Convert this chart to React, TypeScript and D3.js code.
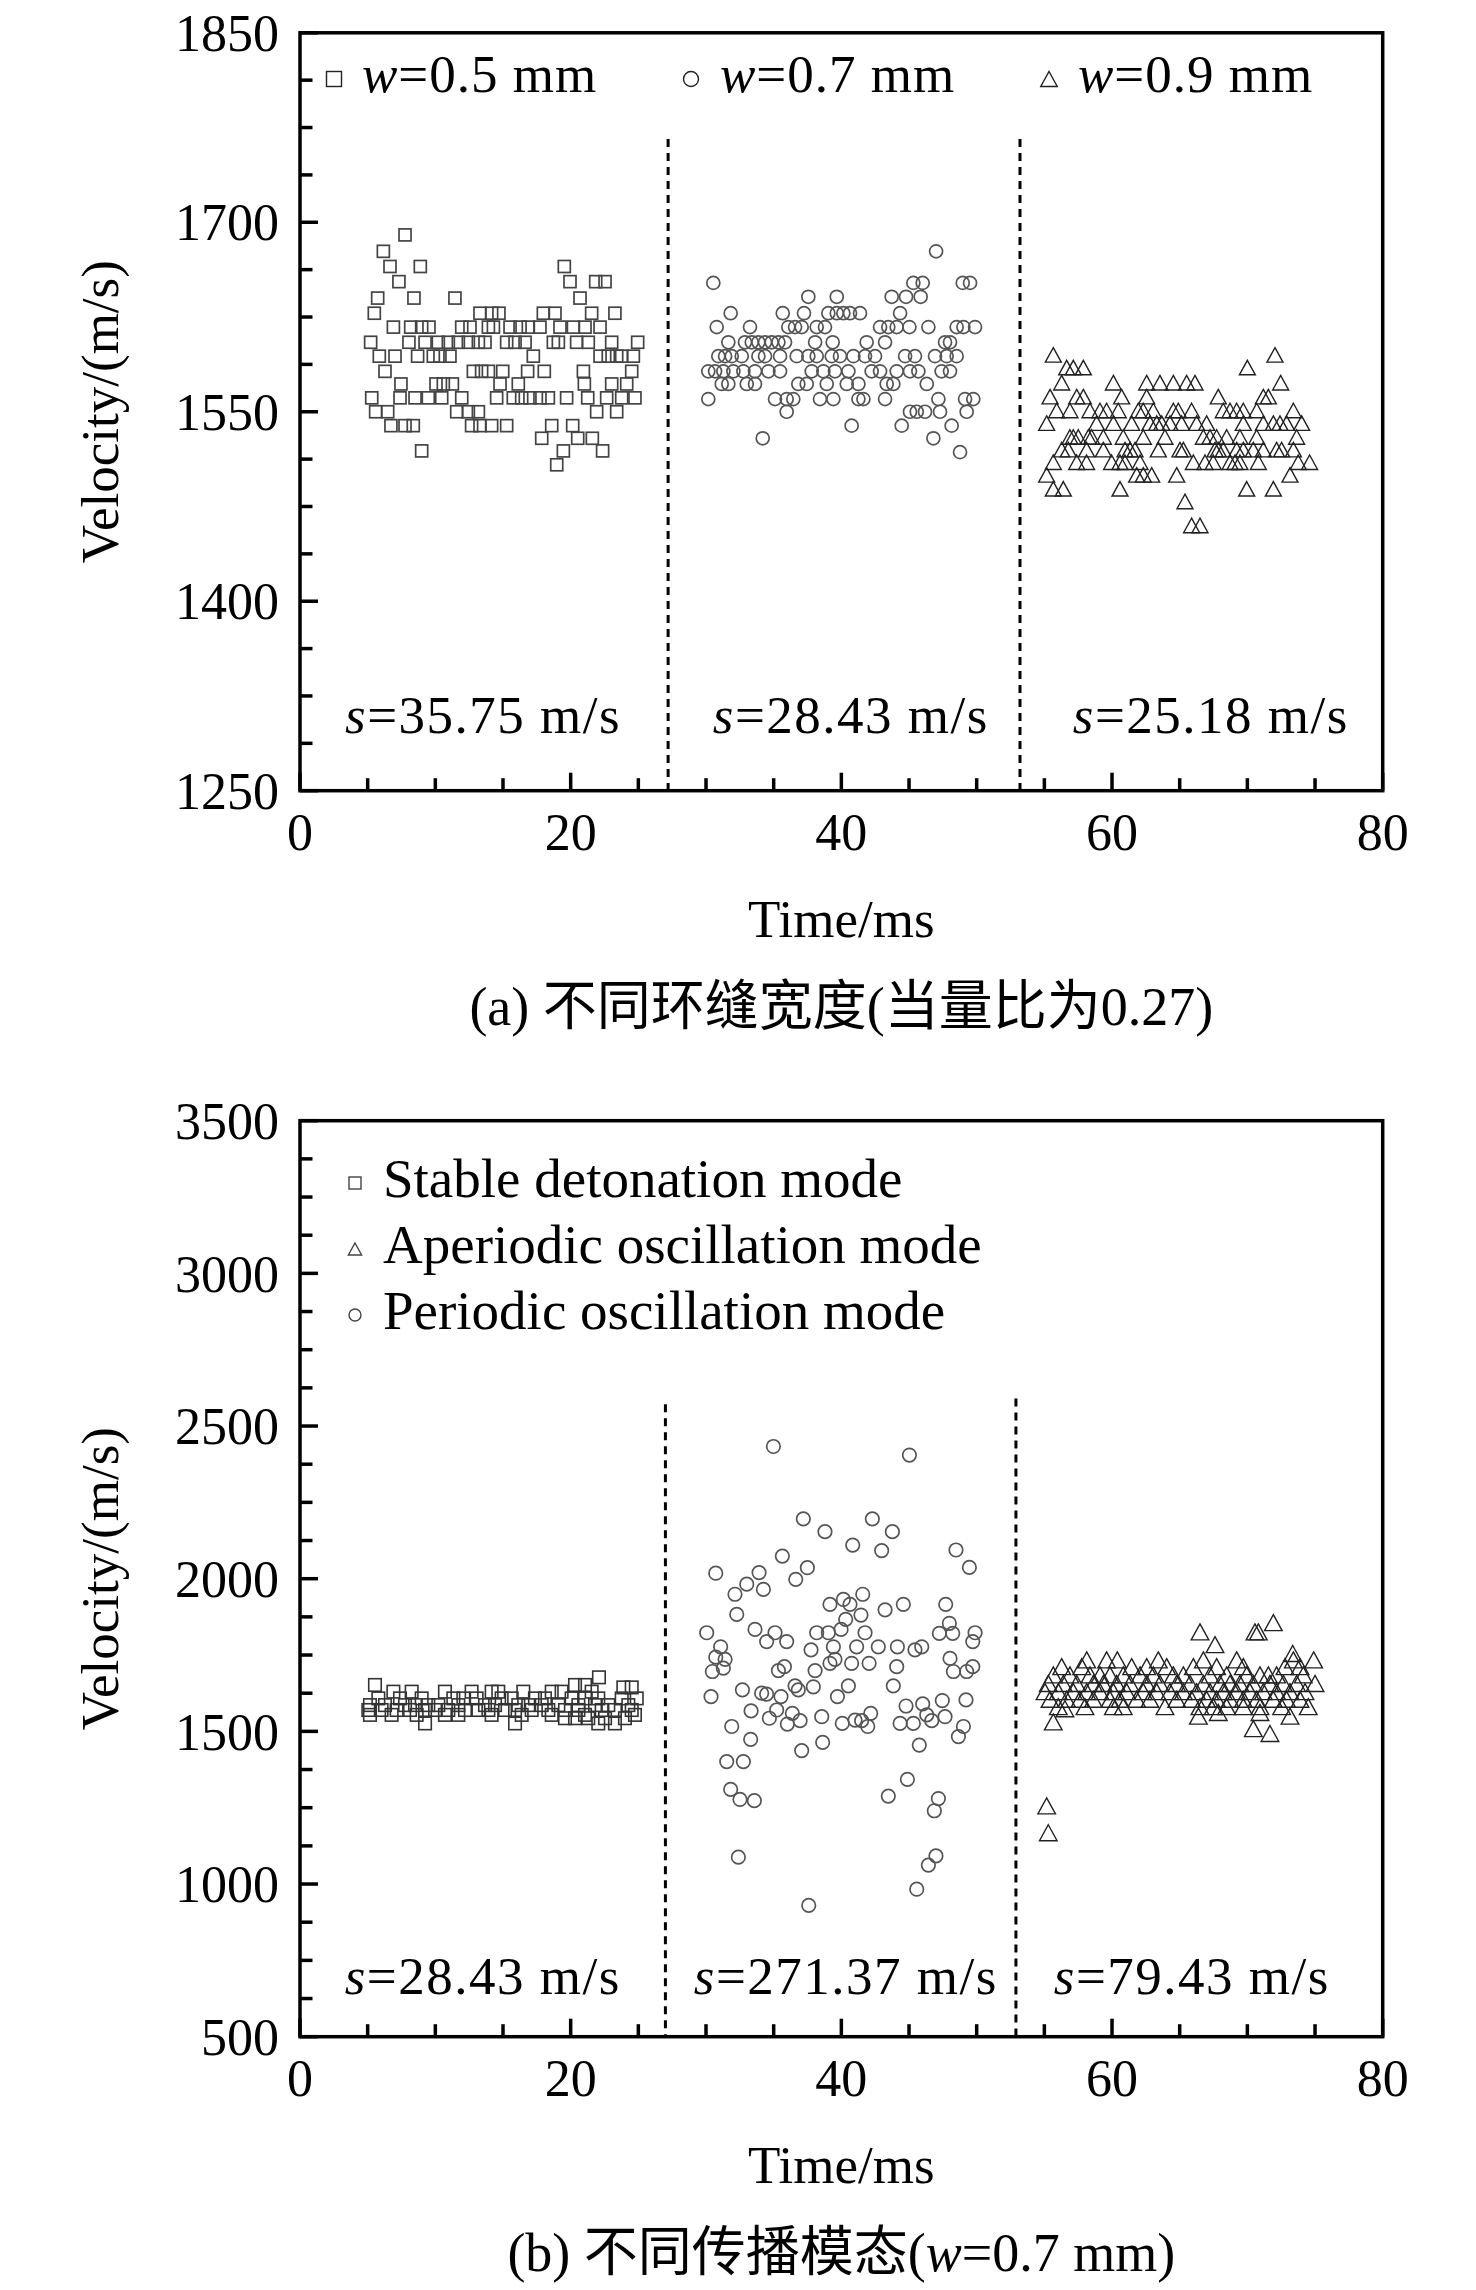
import React from 'react'
import * as d3 from 'd3'

// page size and plot frames (px)
const W = 1476
const H = 2290
const X0 = 300
const X1 = 1382.7
const A_TOP = 32.8
const A_BOT = 790.7
const B_TOP = 1120.7
const B_BOT = 2036.7

// axes
const timeTicks = [0, 20, 40, 60, 80]
const velTicksA = [1250, 1400, 1550, 1700, 1850]
const velTicksB = [500, 1000, 1500, 2000, 2500, 3000, 3500]

// (a) rows: [velocity, times[]]
const wide05: [number, number[]][] = [
	[1690, [7.76]],
	[1677, [6.16]],
	[1665, [6.65, 8.89, 19.53]],
	[1653, [7.31, 19.95, 21.85, 22.54]],
	[1640, [5.74, 8.42, 11.45, 20.69]],
	[1628, [5.49, 13.3, 14.16, 14.7, 17.98, 18.84, 21.55, 23.27]],
	[1617, [6.9, 8.18, 8.99, 9.53, 11.95, 12.56, 13.92, 14.29, 15.52, 16.26, 16.87, 17.73, 19.21, 20.2, 21.06, 22.17]],
	[1605, [5.22, 8.05, 9.24, 10.22, 10.96, 11.7, 12.44, 13.18, 13.67, 15.27, 15.89, 16.63, 18.72, 19.09, 20.44, 21.3, 23.03, 24.95]],
	[1594, [5.86, 7.02, 8.69, 9.85, 10.34, 11.08, 17.24, 22.17, 22.78, 23.4, 23.77, 24.63]],
	[1582, [6.28, 12.81, 13.42, 13.92, 14.98, 16.82, 18.05, 20.94, 24.51]],
	[1572, [7.46, 10.05, 10.59, 11.26, 14.78, 16.13, 21.01, 23.03, 24.14]],
	[1561, [5.3, 7.39, 8.5, 9.48, 10.47, 11.95, 14.53, 15.76, 16.38, 16.99, 17.73, 18.35, 19.7, 21.26, 22.66, 23.77, 24.75]],
	[1550, [5.59, 6.48, 11.58, 12.44, 13.18, 21.92, 23.4]],
	[1539, [6.72, 7.76, 8.37, 12.68, 13.3, 14.16, 15.27, 18.6, 20.15]],
	[1529, [17.86, 20.52, 21.6]],
	[1519, [8.99, 19.46, 22.36]],
	[1508, [18.97]]
]

const wide07: [number, number[]][] = [
	[1677, [47.0]],
	[1652, [30.54, 45.32, 46.01, 48.97, 49.51]],
	[1641, [37.56, 39.66, 43.72, 44.78, 45.86]],
	[1628, [31.82, 35.67, 37.24, 39.04, 39.66, 40.15, 40.64, 41.38, 44.34]],
	[1617, [30.79, 33.25, 36.08, 36.58, 37.07, 38.18, 38.79, 42.86, 43.47, 44.09, 45.03, 46.43, 48.52, 49.02, 49.88]],
	[1605, [31.65, 32.88, 33.38, 33.87, 34.36, 34.85, 35.35, 35.84, 38.06, 39.36, 41.87, 43.23, 47.66, 48.03]],
	[1594, [30.91, 31.41, 31.9, 32.64, 33.87, 34.36, 35.47, 36.7, 37.56, 38.18, 39.29, 39.9, 40.89, 41.75, 42.49, 44.71, 45.44, 46.92, 47.78, 48.52]],
	[1582, [30.17, 30.67, 31.28, 32.02, 32.76, 33.62, 34.61, 35.47, 37.81, 38.67, 39.53, 40.52, 42.24, 42.86, 44.09, 45.07, 45.69, 47.41, 48.03]],
	[1572, [31.16, 31.65, 33.01, 33.62, 36.82, 37.44, 38.92, 40.4, 41.26, 43.35, 43.84, 46.31]],
	[1560, [30.17, 35.1, 35.96, 36.45, 38.42, 39.41, 41.26, 41.63, 43.23, 47.17, 49.14, 49.75]],
	[1550, [35.96, 45.07, 45.57, 46.18, 47.29, 49.26]],
	[1539, [40.76, 44.46, 48.15]],
	[1529, [34.19, 46.8]],
	[1518, [48.77]]
]

const wide09: [number, number[]][] = [
	[1595, [55.66, 72.04]],
	[1585, [56.65, 57.14, 57.88, 70.0]],
	[1573, [56.28, 60.1, 62.56, 63.54, 64.53, 65.51, 66.13, 72.46]],
	[1562, [55.42, 57.39, 57.88, 60.71, 62.56, 67.85, 71.18, 71.55]],
	[1551, [55.91, 56.89, 58.37, 59.11, 59.6, 60.46, 61.94, 62.31, 63.05, 64.53, 64.9, 65.88, 68.22, 68.72, 69.21, 69.7, 70.69, 73.4]],
	[1541, [55.17, 58.86, 60.1, 61.45, 62.8, 63.3, 63.67, 64.28, 65.14, 66.25, 66.99, 69.7, 71.18, 71.92, 72.41, 72.9, 74.01]],
	[1530, [56.89, 57.14, 57.51, 58.25, 58.49, 59.36, 60.83, 62.31, 63.91, 66.75, 67.24, 67.73, 68.47, 69.45, 70.69, 73.64]],
	[1520, [56.28, 56.77, 58.12, 59.36, 60.96, 61.33, 61.7, 63.42, 65.02, 65.27, 67.61, 67.85, 68.22, 69.21, 69.7, 70.44, 71.18, 72.16, 72.53, 73.4]],
	[1510, [55.66, 57.39, 58.12, 59.97, 60.59, 60.96, 62.07, 66.01, 66.87, 67.48, 68.72, 69.09, 69.45, 70.81, 73.76, 74.6]],
	[1500, [55.17, 61.82, 62.31, 62.93, 64.78, 73.15]],
	[1489, [55.66, 56.4, 60.59, 69.95, 71.92]],
	[1479, [65.39]],
	[1460, [65.88, 66.5]]
]

// (b) rows: [velocity, times[]]
const stableMode: [number, number[]][] = [
	[1677, [22.09]],
	[1652, [5.54, 20.32, 21.06]],
	[1644, [23.89, 24.51]],
	[1630, [6.9, 8.25, 10.71, 12.68, 14.16, 14.65, 16.5, 18.6, 19.33, 21.55]],
	[1608, [5.79, 7.39, 8.99, 11.33, 12.07, 13.05, 14.9, 15.64, 17.36, 18.1, 20.07, 21.06, 22.04, 23.77, 24.88]],
	[1586, [5.17, 6.28, 7.76, 8.5, 9.48, 10.22, 11.7, 13.67, 14.41, 16.13, 16.87, 17.86, 19.09, 20.57, 21.8, 22.78, 24.26]],
	[1570, [5.05, 6.03, 7.14, 8.13, 9.24, 9.98, 10.96, 12.19, 13.18, 13.92, 15.15, 15.89, 17.12, 18.35, 19.58, 20.57, 22.29, 23.27, 24.51]],
	[1554, [5.17, 6.77, 8.62, 10.71, 11.7, 14.16, 16.38, 18.6, 21.06, 24.75]],
	[1543, [19.58, 20.32, 21.3, 22.54, 24.01]],
	[1526, [9.24, 15.89, 22.04, 23.27]]
]

const aperiodicMode: [number, number[]][] = [
	[1856, [71.92]],
	[1826, [66.5, 70.56, 70.81]],
	[1784, [67.61]],
	[1755, [73.35]],
	[1734, [58.13, 59.6, 60.39, 63.42, 66.75, 69.21, 73.4, 74.9]],
	[1712, [56.28, 57.76, 61.45, 62.56, 64.04, 66.01, 67.73, 69.7, 72.78, 73.89]],
	[1685, [55.66, 56.89, 58.37, 59.11, 59.85, 60.83, 62.07, 63.05, 64.53, 65.27, 67.24, 68.47, 69.95, 70.93, 71.55, 72.16, 74.13]],
	[1657, [55.29, 56.4, 57.39, 58.62, 59.36, 60.34, 61.33, 62.56, 63.54, 64.78, 65.76, 66.75, 67.98, 68.72, 69.45, 70.44, 71.67, 72.66, 73.64, 75.0]],
	[1630, [55.05, 56.03, 57.14, 58.13, 59.11, 60.1, 61.08, 62.31, 63.3, 64.28, 65.27, 66.25, 67.24, 68.22, 69.21, 70.19, 71.18, 72.16, 73.15, 74.26]],
	[1605, [55.42, 56.65, 57.63, 58.62, 59.85, 60.59, 61.82, 62.8, 64.78, 65.88, 66.99, 67.73, 68.72, 69.7, 70.69, 71.92, 72.9, 73.89]],
	[1581, [56.03, 58.0, 60.1, 60.83, 63.91, 66.5, 67.48, 68.47, 69.7, 70.93, 72.53, 74.5]],
	[1574, [56.52]],
	[1562, [67.85, 70.93]],
	[1550, [66.38, 73.15]],
	[1531, [55.66]],
	[1509, [70.44]],
	[1493, [71.67]],
	[1256, [55.17]],
	[1168, [55.29]]
]

// [time, velocity]
const periodicMode: [number, number][] = [
	[34.98, 2433], [45.03, 2405], [37.19, 2196], [42.29, 2196], [38.79, 2154], [43.77, 2154],
	[40.84, 2110], [42.98, 2092], [48.47, 2094], [49.46, 2037], [35.64, 2074], [30.72, 2018],
	[33.92, 2020], [37.49, 2036], [36.63, 1998], [33.01, 1982], [34.24, 1965], [32.14, 1949],
	[41.58, 1949], [40.15, 1932], [39.16, 1916], [40.64, 1916], [44.58, 1916], [43.23, 1898],
	[47.71, 1916], [32.27, 1883], [41.45, 1881], [40.32, 1867], [47.98, 1854], [30.05, 1823],
	[33.62, 1834], [35.1, 1823], [38.18, 1823], [39.04, 1823], [39.98, 1834], [41.75, 1823],
	[47.24, 1821], [48.23, 1821], [49.88, 1823], [34.48, 1794], [35.96, 1794], [49.71, 1794],
	[31.08, 1777], [37.76, 1767], [39.41, 1777], [41.13, 1777], [42.73, 1777], [44.14, 1777],
	[45.44, 1767], [45.94, 1777], [30.72, 1743], [31.41, 1736], [39.53, 1736], [40.76, 1723],
	[42.05, 1723], [39.16, 1723], [48.03, 1739], [30.47, 1696], [31.28, 1707], [35.35, 1699],
	[35.79, 1712], [38.06, 1699], [44.09, 1712], [48.28, 1696], [49.26, 1696], [49.71, 1712],
	[40.52, 1649], [43.84, 1649], [36.58, 1649], [36.82, 1636], [37.93, 1646], [32.69, 1636],
	[34.11, 1625], [34.48, 1622], [30.37, 1614], [35.54, 1614], [39.71, 1614], [44.78, 1583],
	[46.01, 1590], [47.46, 1601], [49.21, 1603], [33.33, 1567], [35.22, 1570], [34.68, 1543],
	[36.38, 1559], [36.95, 1535], [36.01, 1524], [38.55, 1548], [40.07, 1526], [41.01, 1537],
	[41.5, 1535], [42.17, 1559], [41.95, 1516], [44.34, 1526], [45.32, 1526], [46.31, 1554],
	[46.68, 1535], [47.66, 1548], [49.02, 1516], [48.65, 1483], [31.9, 1516], [33.3, 1474],
	[37.07, 1437], [38.62, 1464], [45.76, 1455], [31.53, 1401], [32.76, 1401], [44.88, 1343],
	[31.82, 1310], [32.51, 1277], [33.57, 1273], [43.47, 1288], [47.17, 1280], [46.87, 1240],
	[32.39, 1088], [46.99, 1092], [46.43, 1062], [45.57, 983], [37.59, 930]
]

// separators and standard deviations
const splitTimesA = [27.2, 53.2]
const splitTopsA = [1766, 1766]
const splitTimesB = [27.0, 52.9]
const splitTopsB = [2571, 2590]
const sdA = ['35.75', '28.43', '25.18']
const sdTimesA = [3.33, 30.5, 57.1]
const sdB = ['28.43', '271.37', '79.43']
const sdTimesB = [3.3, 29.1, 55.7]

const FONT = '"Liberation Serif", "Times New Roman", serif'
const CJK = '"Liberation Serif", "Times New Roman", "Noto Sans CJK SC", serif'

const flat = (rows: [number, number[]][]) =>
	rows.flatMap(([v, ts]) => ts.map(t => [t, v] as [number, number]))

const triPath = (w: number, h: number) =>
	`M0,${-h / 2}L${w / 2},${h / 2}L${-w / 2},${h / 2}Z`

const x = d3.scaleLinear().domain([0, 80]).range([X0, X1])

const Marker = ({ kind, cx, cy, s, stroke, sw }:
	{ kind: string, cx: number, cy: number, s: number, stroke: string, sw: number }) => {
	if (kind === 'square') {
		return <rect x={cx - s / 2} y={cy - s / 2} width={s} height={s} fill="none" stroke={stroke} strokeWidth={sw} />
	}
	if (kind === 'circle') {
		return <circle cx={cx} cy={cy} r={s / 2} fill="none" stroke={stroke} strokeWidth={sw} />
	}
	return <path d={triPath(s * 1.1, s)} transform={`translate(${cx},${cy})`} fill="none" stroke={stroke} strokeWidth={sw} />
}

interface IPanel {
	top: number
	bottom: number
	domain: [number, number]
	ticks: number[]
	minorStep: number
}

const Axes = ({ top, bottom, domain, ticks, minorStep }: IPanel) => {
	const y = d3.scaleLinear().domain(domain).range([bottom, top])
	const minorY = d3.range(domain[0], domain[1] + 1e-6, minorStep).filter(v => !ticks.includes(v))
	const minorX = d3.range(0, 80.001, 5).filter(v => !timeTicks.includes(v))
	return (
		<g>
			<rect x={X0} y={top} width={X1 - X0} height={bottom - top} fill="none" stroke="#000" strokeWidth={3.5} />
			{ticks.map(v => (
				<g key={'y' + v}>
					<line x1={X0} x2={X0 + 18} y1={y(v)} y2={y(v)} stroke="#000" strokeWidth={3.5} />
					<text x={279} y={y(v)} dy="0.35em" textAnchor="end" fontSize={52} fontFamily={FONT}>{v}</text>
				</g>
			))}
			{minorY.map(v => (
				<line key={'my' + v} x1={X0} x2={X0 + 12.5} y1={y(v)} y2={y(v)} stroke="#000" strokeWidth={3.5} />
			))}
			{timeTicks.map(t => (
				<g key={'x' + t}>
					<line x1={x(t)} x2={x(t)} y1={bottom} y2={bottom - 18} stroke="#000" strokeWidth={3.5} />
					<text x={x(t)} y={bottom + 59} textAnchor="middle" fontSize={52} fontFamily={FONT}>{t}</text>
				</g>
			))}
			{minorX.map(t => (
				<line key={'mx' + t} x1={x(t)} x2={x(t)} y1={bottom} y2={bottom - 12.5} stroke="#000" strokeWidth={3.5} />
			))}
			<text x={(X0 + X1) / 2} y={bottom + 146} textAnchor="middle" fontSize={53} fontFamily={FONT}>Time/ms</text>
			<text transform={`translate(118,${(top + bottom) / 2}) rotate(-90)`} textAnchor="middle" fontSize={53} fontFamily={FONT}>Velocity/(m/s)</text>
		</g>
	)
}

const Split = ({ t, top, bottom }: { t: number, top: number, bottom: number }) => (
	<line x1={x(t)} x2={x(t)} y1={top} y2={bottom} stroke="#000" strokeWidth={3} strokeDasharray="8 6" />
)

const Sd = ({ t, yy, val }: { t: number, yy: number, val: string }) => (
	<text x={x(t)} y={yy} fontSize={53} letterSpacing={1.5} fontFamily={FONT}>
		<tspan fontStyle="italic">s</tspan>={val} m/s
	</text>
)

const App = () => {
	const ya = d3.scaleLinear().domain([1250, 1850]).range([A_BOT, A_TOP])
	const yb = d3.scaleLinear().domain([500, 3500]).range([B_BOT, B_TOP])

	const legendA = [
		{ kind: 'square', mx: 334, tx: 362, label: '0.5' },
		{ kind: 'circle', mx: 691, tx: 720, label: '0.7' },
		{ kind: 'triangle', mx: 1049, tx: 1078, label: '0.9' }
	]
	const legendB = [
		{ kind: 'square', label: 'Stable detonation mode', yy: 1197 },
		{ kind: 'triangle', label: 'Aperiodic oscillation mode', yy: 1263 },
		{ kind: 'circle', label: 'Periodic oscillation mode', yy: 1329 }
	]

	return (
		<svg width={W} height={H} style={{ position: 'absolute', left: 0, top: 0, background: '#fff' }}>
			<rect width={W} height={H} fill="#fff" />

			{/* (a) */}
			<Axes top={A_TOP} bottom={A_BOT} domain={[1250, 1850]} ticks={velTicksA} minorStep={37.5} />
			{splitTimesA.map((t, i) => <Split key={t} t={t} top={ya(splitTopsA[i])} bottom={A_BOT} />)}
			{flat(wide05).map(([t, v], i) => <Marker key={'a5' + i} kind="square" cx={x(t)} cy={ya(v)} s={12} stroke="#444" sw={1.7} />)}
			{flat(wide07).map(([t, v], i) => <Marker key={'a7' + i} kind="circle" cx={x(t)} cy={ya(v)} s={13} stroke="#555" sw={1.7} />)}
			{flat(wide09).map(([t, v], i) => <Marker key={'a9' + i} kind="triangle" cx={x(t)} cy={ya(v)} s={14.5} stroke="#222" sw={1.4} />)}
			{legendA.map(d => (
				<g key={d.label}>
					<Marker kind={d.kind} cx={d.mx} cy={79} s={15} stroke="#222" sw={1.4} />
					<text x={d.tx} y={92} fontSize={53} letterSpacing={1} fontFamily={FONT}>
						<tspan fontStyle="italic">w</tspan>={d.label} mm
					</text>
				</g>
			))}
			{sdA.map((s, i) => <Sd key={'sa' + i} t={sdTimesA[i]} yy={ya(1296)} val={s} />)}
			<text x={(X0 + X1) / 2} y={1025} textAnchor="middle" fontSize={54} fontFamily={CJK}>(a) 不同环缝宽度(当量比为0.27)</text>

			{/* (b) */}
			<Axes top={B_TOP} bottom={B_BOT} domain={[500, 3500]} ticks={velTicksB} minorStep={125} />
			{splitTimesB.map((t, i) => <Split key={t} t={t} top={yb(splitTopsB[i])} bottom={B_BOT} />)}
			{flat(stableMode).map(([t, v], i) => <Marker key={'bs' + i} kind="square" cx={x(t)} cy={yb(v)} s={12.5} stroke="#333" sw={1.6} />)}
			{periodicMode.map(([t, v], i) => <Marker key={'bp' + i} kind="circle" cx={x(t)} cy={yb(v)} s={13.5} stroke="#555" sw={1.7} />)}
			{flat(aperiodicMode).map(([t, v], i) => <Marker key={'ba' + i} kind="triangle" cx={x(t)} cy={yb(v)} s={16} stroke="#222" sw={1.4} />)}
			{legendB.map(d => (
				<g key={d.label}>
					<Marker kind={d.kind} cx={355} cy={d.yy - 14} s={12} stroke="#444" sw={1.4} />
					<text x={383} y={d.yy} fontSize={55} fontFamily={FONT}>{d.label}</text>
				</g>
			))}
			{sdB.map((s, i) => <Sd key={'sb' + i} t={sdTimesB[i]} yy={yb(640)} val={s} />)}
			<text x={(X0 + X1) / 2} y={2271} textAnchor="middle" fontSize={54} fontFamily={CJK}>
				(b) 不同传播模态(<tspan fontStyle="italic">w</tspan>=0.7 mm)
			</text>
		</svg>
	)
}

export default App
